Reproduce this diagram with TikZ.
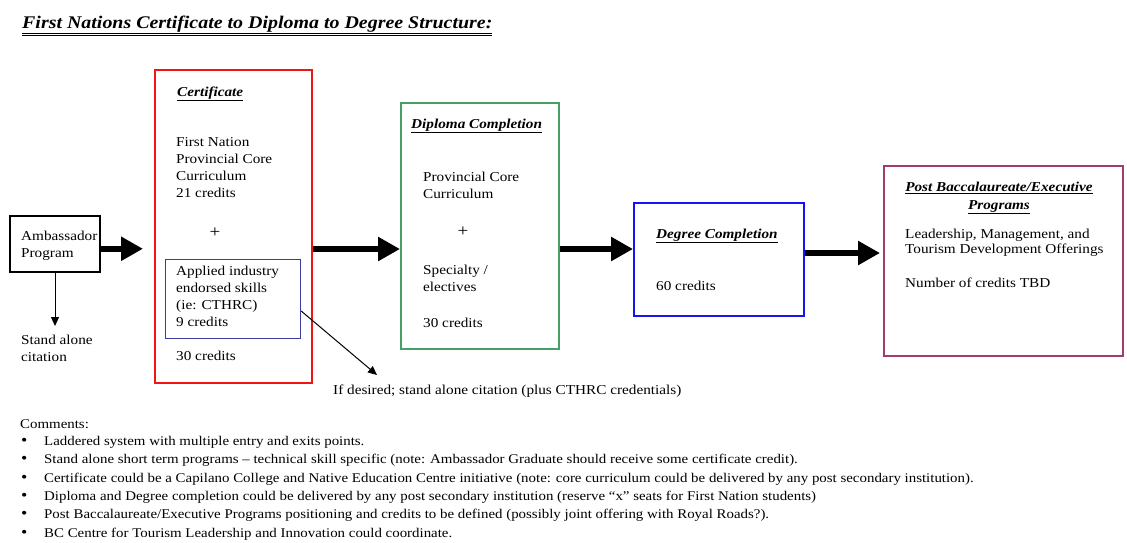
\documentclass[tikz,border=0pt]{standalone}
\usepackage{fontspec}
\setmainfont{Liberation Serif}[FakeStretch=1.12]
\usetikzlibrary{arrows.meta}
\definecolor{certred}{RGB}{240,20,20}
\definecolor{dipgreen}{RGB}{70,160,100}
\definecolor{innerblue}{RGB}{60,60,160}
\definecolor{degblue}{RGB}{20,20,240}
\definecolor{postpurple}{RGB}{160,60,110}
\newcommand\topstrut{\rule{0pt}{10pt}}
\tikzset{
  boxa/.style={draw, line width=1.5pt, anchor=north west, inner sep=0pt},
  bigarrow/.style={line width=6pt, -{Triangle[length=22pt,width=23pt]}},
  thinarrow/.style={line width=1pt, -{Triangle[length=9pt,width=8pt]}},
  txt/.style={anchor=base west, inner sep=0pt, align=left, font=\fontsize{13.6}{17}\selectfont},
  mtxt/.style={txt, anchor=north west},
  hdr/.style={anchor=base west, inner sep=0pt, align=left, font=\fontsize{13.6}{18}\selectfont\bfseries\itshape},
  cmt/.style={anchor=base west, inner sep=0pt, align=left, font=\fontsize{13.3}{18.4}\selectfont}
}
\begin{document}
\begin{tikzpicture}[x=1pt,y=-1pt]
\useasboundingbox (0,0) rectangle (1127,542);
% title
\node[anchor=base west, inner sep=0pt, font=\fontsize{17.8}{20}\selectfont\bfseries\itshape] (title) at (22,28)
  {\underline{\underline{First Nations Certificate to Diploma to Degree Structure:}}};
% boxes
\node[boxa, draw=black, minimum width=90pt, minimum height=56pt] (amb) at (9,215) {};
\node[boxa, draw=certred, minimum width=157pt, minimum height=313pt] (cert) at (154,69) {};
\node[boxa, draw=innerblue, line width=1.2pt, minimum width=135pt, minimum height=79pt] (inner) at (165,259) {};
\node[boxa, draw=dipgreen, minimum width=158pt, minimum height=246pt] (dip) at (400,102) {};
\node[boxa, draw=degblue, minimum width=170pt, minimum height=113pt] (deg) at (633,202) {};
\node[boxa, draw=postpurple, minimum width=239pt, minimum height=190pt] (post) at (883,165) {};
% texts
\node[mtxt] (ambt) at (21,230) {\topstrut Ambassador\\Program};
\node[mtxt] (stand) at (21,334) {\topstrut Stand alone\\citation};
\node[hdr] (certh) at (177,96) {\underline{Certificate}};
\node[mtxt] (certt) at (176,136) {\topstrut First Nation\\Provincial Core\\Curriculum\\21 credits};
\node[anchor=center, inner sep=0pt, font=\fontsize{17}{17}\selectfont] (plus1) at (215,233) {+};
\node[mtxt] (innert) at (176,265) {\topstrut Applied industry\\endorsed skills\\(ie: CTHRC)\\9 credits};
\node[txt] (cert30) at (176,360) {30 credits};
\node[hdr] (diph) at (411,128) {\underline{Diploma Completion}};
\node[mtxt] (dipt) at (423,171) {\topstrut Provincial Core\\Curriculum};
\node[anchor=center, inner sep=0pt, font=\fontsize{17}{17}\selectfont] (plus2) at (463,232) {+};
\node[mtxt] (dipt2) at (423,264) {\topstrut Specialty /\\electives};
\node[txt] (dip30) at (423,327) {30 credits};
\node[hdr] (degh) at (656,238) {\underline{Degree Completion}};
\node[txt] (deg60) at (656,290) {60 credits};
\node[hdr, anchor=north, align=center, font=\fontsize{13.6}{18}\selectfont\bfseries\itshape] (posth) at (999,181) {\topstrut\underline{Post Baccalaureate/Executive}\\\underline{Programs}};
\node[mtxt, font=\fontsize{13.6}{15}\selectfont] (postt) at (905,228) {\topstrut Leadership, Management, and\\Tourism Development Offerings};
\node[txt] (postn) at (905,287) {Number of credits TBD};
\node[txt] (ifdes) at (333,394) {If desired; stand alone citation (plus CTHRC credentials)};
\coordinate (diagend) at (377,375);
% comments
\node[cmt] (cmts) at (20,428) {Comments:};
\node[cmt, anchor=north west, font=\fontsize{16}{18.4}\selectfont] (bullets) at (21,435) {%
\topstrut\textbullet\\\textbullet\\\textbullet\\\textbullet\\\textbullet\\\textbullet};
\node[cmt, anchor=north west] (cmtlist) at (44,435) {\topstrut Laddered system with multiple entry and exits points.\\
Stand alone short term programs -- technical skill specific (note: Ambassador Graduate should receive some certificate credit).\\
Certificate could be a Capilano College and Native Education Centre initiative (note: core curriculum could be delivered by any post secondary institution).\\
Diploma and Degree completion could be delivered by any post secondary institution (reserve ``x'' seats for First Nation students)\\
Post Baccalaureate/Executive Programs positioning and credits to be defined (possibly joint offering with Royal Roads?).\\
BC Centre for Tourism Leadership and Innovation could coordinate.};
% connectors
\draw[bigarrow, shorten >=11pt] ([yshift=-5pt]amb.east) -- ([yshift=-5pt]amb.east -| cert.west);
\draw[bigarrow] (cert.east |- 0,249) -- (dip.west |- 0,249);
\draw[bigarrow] (dip.east |- 0,249) -- (deg.west |- 0,249);
\draw[bigarrow, shorten >=3pt] (deg.east |- 0,253) -- (post.west |- 0,253);
\draw[thinarrow] (amb.south -| 55,0) -- (55,326);
\draw[thinarrow] (inner.east |- 0,311) -- (diagend);
\end{tikzpicture}
\end{document}
